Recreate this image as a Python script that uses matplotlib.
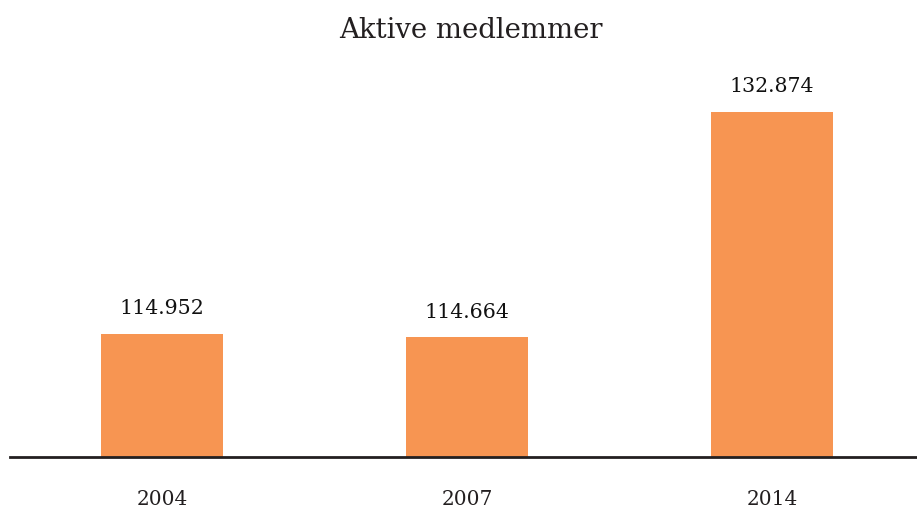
import matplotlib
matplotlib.use("Agg")
import matplotlib.pyplot as plt

categories = ["2004", "2007", "2014"]
values = [114952, 114664, 132874]
value_labels = ["114.952", "114.664", "132.874"]
title = "Aktive medlemmer"

W, H = 917, 511
fig = plt.figure(figsize=(W / 100, H / 100), dpi=100)
plt.rcParams['font.family'] = ['DejaVu Serif']

ax = fig.add_axes([10 / W, (H - 457) / H, 907 / W, (457 - 60.5) / H])
x = list(range(len(categories)))
ax.bar(x, values, width=0.4, color="#F79552", zorder=2)
ax.set_ylim(105000, 137000)
ax.set_xlim(-0.498, 2.475)

for s in ["top", "right", "left"]:
    ax.spines[s].set_visible(False)
ax.spines["bottom"].set_color("#231F20")
ax.spines["bottom"].set_linewidth(2)
ax.spines["bottom"].set_zorder(3)
ax.set_yticks([])
ax.set_xticks(x)
ax.set_xticklabels(categories, fontsize=14.5, color="#231F20")
ax.tick_params(axis="x", length=0, pad=24)

for xi, v, lab in zip(x, values, value_labels):
    ax.annotate(lab, (xi, v), xytext=(0, 11), textcoords="offset points",
                ha="center", va="bottom", fontsize=14.8, color="#111111")

fig.text(471 / W, 1 - 30 / H, title, ha="center", va="center",
         fontsize=19.8, color="#231F20")

fig.savefig("out.png", dpi=100)
